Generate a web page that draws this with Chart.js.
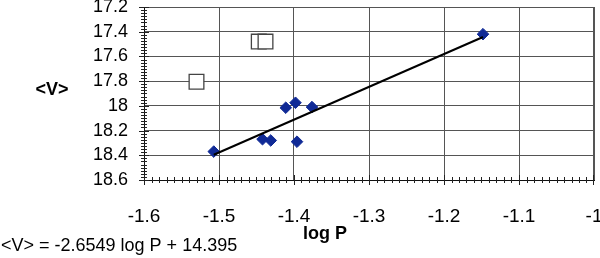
<!DOCTYPE html>
<html>
<head>
<meta charset="utf-8">
<script src="https://cdn.jsdelivr.net/npm/chart.js@4"></script>
<style>
  body { margin: 0; background: #fff; }
  canvas { display: block; }
</style>
</head>
<body>
<canvas id="chart" width="600" height="258"></canvas>
<script>
// measured points (blue diamonds)
const logP = [-1.507, -1.442, -1.431, -1.411, -1.398, -1.376, -1.396, -1.148];
const meanV = [18.37, 18.27, 18.28, 18.015, 17.975, 18.01, 18.29, 17.42];

// excluded points (open squares)
const outlierLogP = [-1.530, -1.447, -1.438];
const outlierV = [17.805, 17.48, 17.48];

// trend line from the printed equation
const slope = -2.6549;
const intercept = 14.395;
const trendLogP = [-1.507, -1.148];

const xTickLabels = ['-1.6', '-1.5', '-1.4', '-1.3', '-1.2', '-1.1', '-1'];
const yTickLabels = ['17.2', '17.4', '17.6', '17.8', '18', '18.2', '18.4', '18.6'];

const equationText = '<V> = -2.6549 log P + 14.395';

const ctx = document.getElementById('chart').getContext('2d');

// plot frame, cross-style major and minor tick marks, plus free text
const extras = {
    id: 'extras',
    afterDraw(chart) {
        const c = chart.ctx;
        const xs = chart.scales.x;
        const ys = chart.scales.y;
        const area = chart.chartArea;
        const topY = Math.round(ys.getPixelForValue(17.2)) + 0.5;
        const rightX = Math.round(xs.getPixelForValue(-1)) - 0.5;
        c.save();
        c.strokeStyle = '#555';
        c.lineWidth = 1;
        c.beginPath();
        c.moveTo(area.left, topY);
        c.lineTo(rightX, topY);
        c.lineTo(rightX, area.bottom);
        c.stroke();

        c.strokeStyle = '#222';
        c.beginPath();
        for (let i = 0; i <= 60; i++) {
            const v = -1.6 + i * 0.01;
            const px = Math.min(Math.round(xs.getPixelForValue(v)) + 0.5, rightX);
            const len = i % 10 === 0 ? 5 : 3;
            c.moveTo(px, area.bottom - len);
            c.lineTo(px, area.bottom + len);
        }
        for (let i = 0; i <= 56; i++) {
            const v = 17.2 + i * 0.025;
            const py = Math.round(ys.getPixelForValue(v)) + 0.5;
            const len = i % 8 === 0 ? 5 : 3;
            c.moveTo(area.left - len, py);
            c.lineTo(area.left + len, py);
        }
        c.stroke();

        c.fillStyle = '#000';
        c.font = 'bold 18px "Liberation Sans", Arial, sans-serif';
        c.textAlign = 'center';
        c.textBaseline = 'middle';
        c.fillText('<V>', 52, 90);
        c.fillText('log P', 325, 234);
        c.font = '18px "Liberation Sans", Arial, sans-serif';
        c.textAlign = 'left';
        c.fillText(equationText, 1, 246);
        c.restore();
    }
};

function noPadding(scale) {
    scale.paddingLeft = 0;
    scale.paddingRight = 0;
    scale.paddingTop = 0;
    scale.paddingBottom = 0;
}

const chart = new Chart(ctx, {
    type: 'scatter',
    data: {
        datasets: [{
            label: 'trend',
            type: 'line',
            data: trendLogP.map((x) => ({ x: x, y: slope * x + intercept })),
            borderColor: '#000',
            borderWidth: 2,
            pointRadius: 0,
            fill: false
        }, {
            label: 'excluded',
            data: outlierLogP.map((x, i) => ({ x: x, y: outlierV[i] })),
            pointStyle: 'rect',
            pointRadius: 10.4,
            backgroundColor: '#fff',
            borderColor: '#444',
            borderWidth: 1.3
        }, {
            label: '<V>',
            data: logP.map((x, i) => ({ x: x, y: meanV[i] })),
            pointStyle: 'rectRot',
            pointRadius: 5.8,
            backgroundColor: '#102a96',
            borderColor: '#102a96',
            borderWidth: 1
        }]
    },
    options: {
        responsive: false,
        animation: false,
        layout: { autoPadding: false, padding: { top: 7, right: 6, left: 0, bottom: 0 } },
        plugins: {
            legend: { display: false },
            tooltip: { enabled: false }
        },
        scales: {
            x: {
                type: 'linear',
                min: -1.6,
                max: -1,
                afterFit: (scale) => { scale.height = 78; noPadding(scale); },
                grid: { color: '#555', lineWidth: 1, drawTicks: false },
                border: { color: '#111', width: 1 },
                ticks: {
                    stepSize: 0.1,
                    autoSkip: false,
                    maxRotation: 0,
                    padding: 25,
                    color: '#000',
                    font: { family: '"Liberation Sans", Arial, sans-serif', size: 19 },
                    callback: (value) => xTickLabels[Math.round((value + 1.6) / 0.1)]
                }
            },
            y: {
                reverse: true,
                min: 17.2,
                max: 18.6,
                afterFit: (scale) => { scale.width = 144; noPadding(scale); },
                grid: { color: '#555', lineWidth: 1, drawTicks: false },
                border: { color: '#111', width: 1 },
                ticks: {
                    stepSize: 0.2,
                    autoSkip: false,
                    padding: 16,
                    color: '#000',
                    font: { family: '"Liberation Sans", Arial, sans-serif', size: 18 },
                    callback: (value) => yTickLabels[Math.round((value - 17.2) / 0.2)]
                }
            }
        }
    },
    plugins: [extras]
});
</script>
</body>
</html>
